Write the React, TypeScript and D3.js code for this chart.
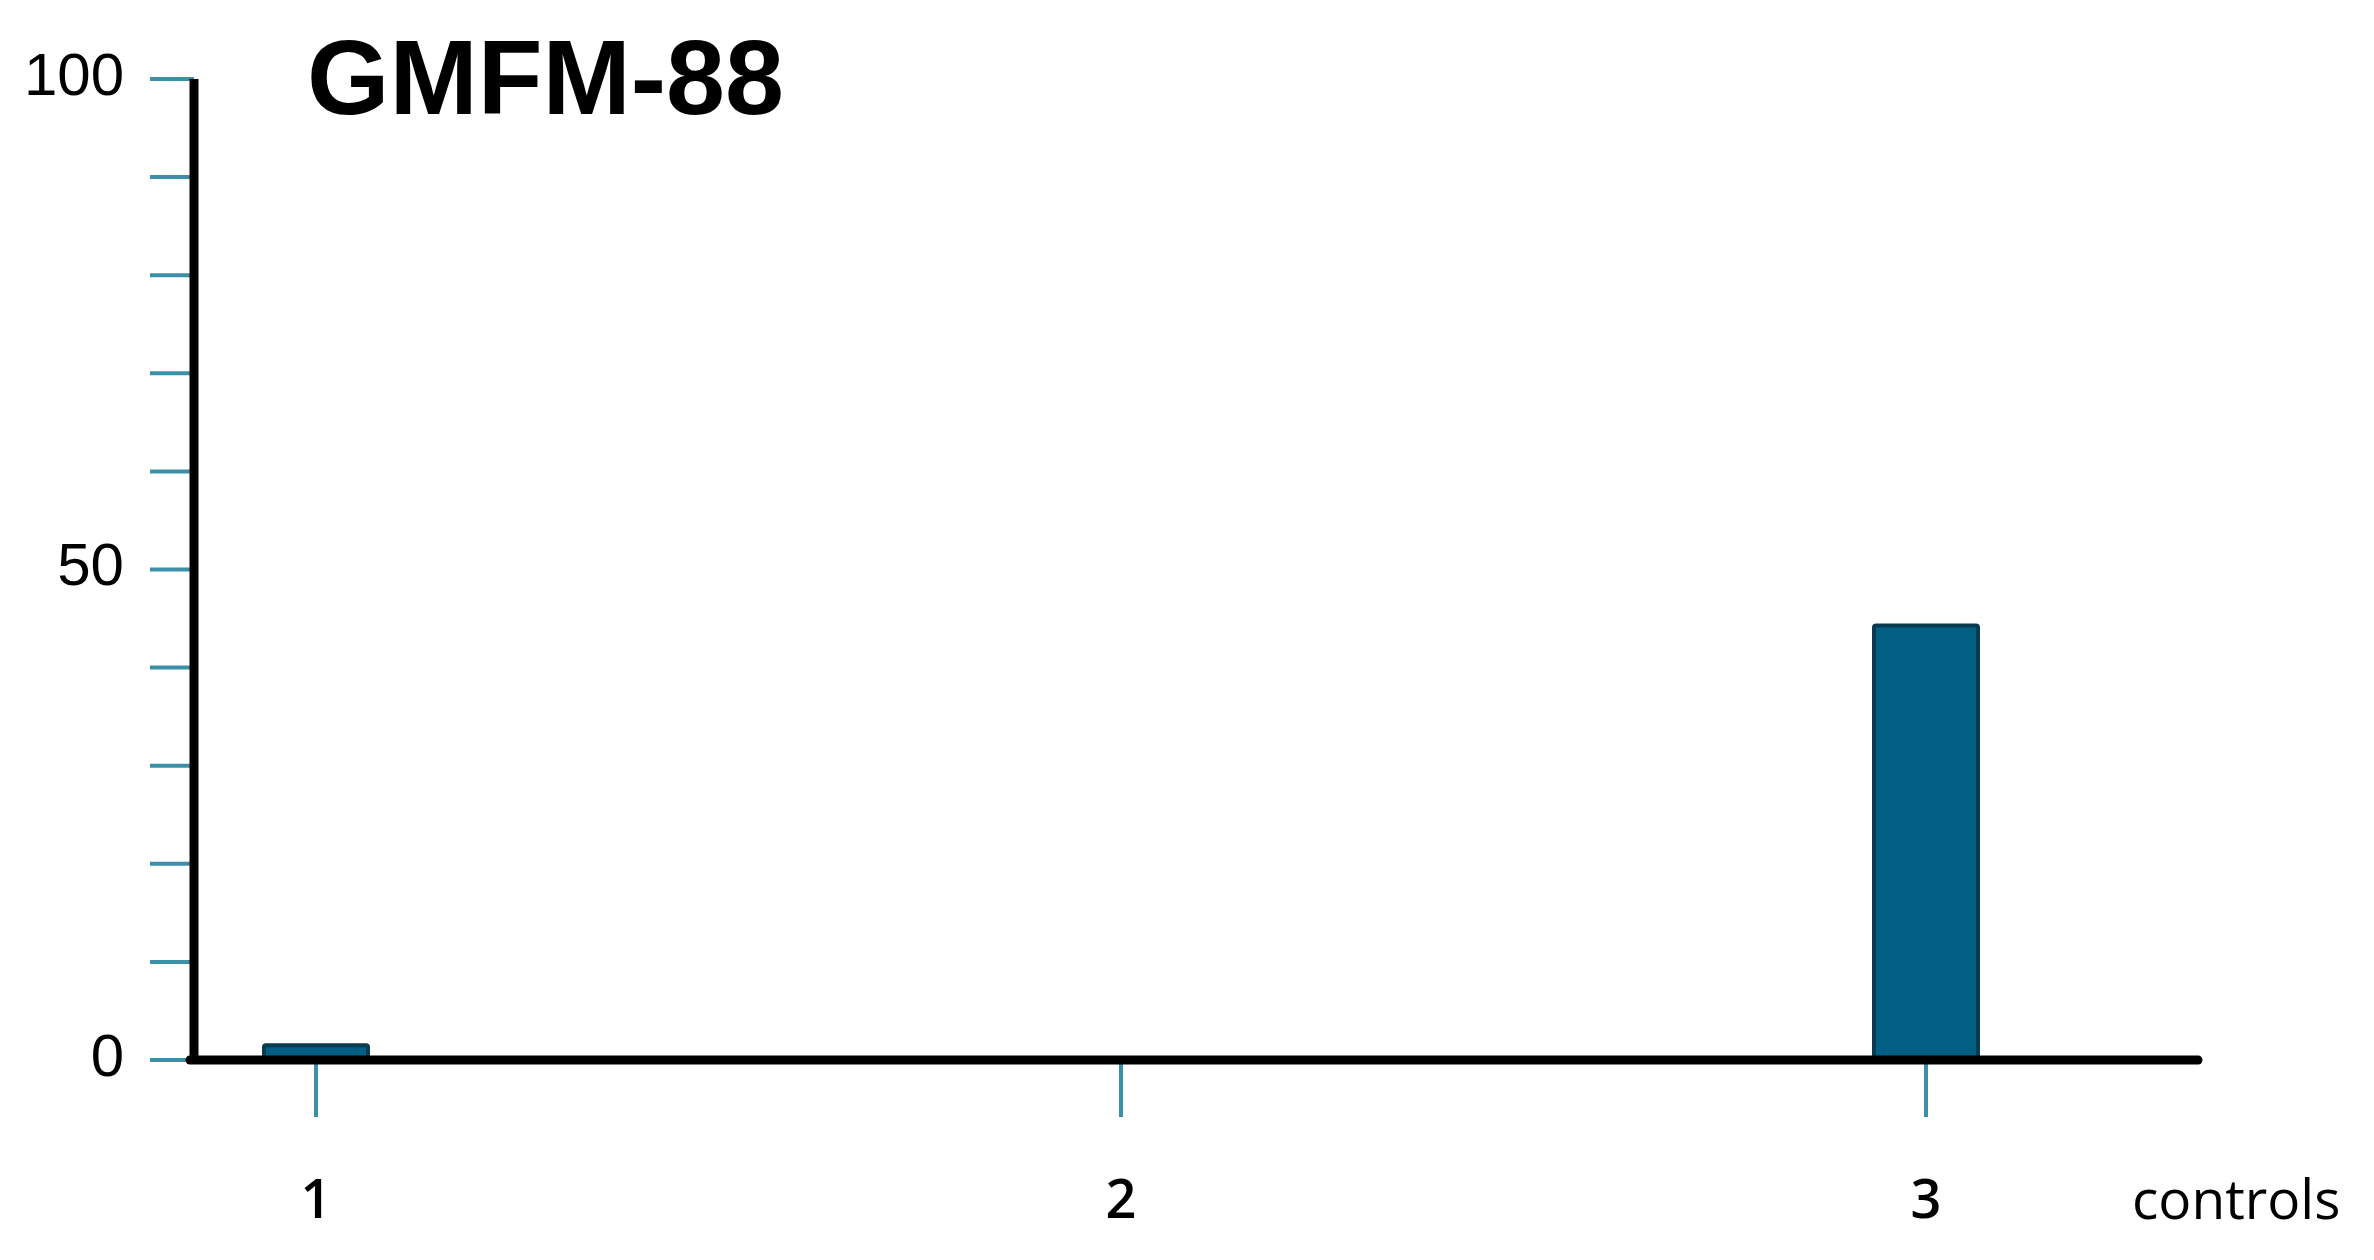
import * as d3 from "d3";
import { useEffect } from "react";

// values
const categories = ["1", "2", "3"];
const scores = [1.5, 0, 44.3];
const yTicks = d3.range(0, 101, 10);
const yTickLabels = [0, 50, 100];
const title = "GMFM-88";
const xAxisLabel = "controls";

const width = 2374;
const height = 1260;
const axisX = 194;
const axisRight = 2198;
const yTop = 79;
const yZero = 1060;

const barColor = "#005f82";
const barStroke = "#083a50";
const tickColor = "#3b8fa6";

export default function App() {
  useEffect(() => {
    document.body.style.margin = "0";
  }, []);

  const x = d3.scalePoint<string>().domain(categories).range([316, 1926]);
  const y = d3.scaleLinear().domain([0, 100]).range([yZero, yTop]);
  const barWidth = 104;

  return (
    <svg width={width} height={height} style={{ display: "block", background: "#fff" }}>
      {/* title */}
      <text
        x={307}
        y={114}
        fontFamily="'Liberation Sans', Arial, sans-serif"
        fontWeight="bold"
        fontSize={106}
        fill="#000"
      >
        {title}
      </text>

      {/* y ticks */}
      {yTicks.map((t) => (
        <line
          key={`yt-${t}`}
          x1={axisX - 44}
          x2={axisX}
          y1={y(t)}
          y2={y(t)}
          stroke={tickColor}
          strokeWidth={4}
        />
      ))}
      {yTickLabels.map((t) => (
        <text
          key={`yl-${t}`}
          x={124}
          y={y(t)}
          textAnchor="end"
          dominantBaseline="middle"
          fontFamily="'Liberation Sans', Arial, sans-serif"
          fontSize={60}
          fill="#000"
        >
          {t}
        </text>
      ))}

      {/* x ticks */}
      {categories.map((c) => (
        <line
          key={`xt-${c}`}
          x1={x(c)}
          x2={x(c)}
          y1={yZero}
          y2={1117}
          stroke={tickColor}
          strokeWidth={4}
        />
      ))}

      {/* bars */}
      {categories.map((c, i) =>
        scores[i] > 0 ? (
          <rect
            key={`bar-${c}`}
            x={(x(c) ?? 0) - barWidth / 2}
            y={y(scores[i])}
            width={barWidth}
            height={yZero - y(scores[i])}
            fill={barColor}
            stroke={barStroke}
            strokeWidth={4}
            rx={2}
          />
        ) : null
      )}

      {/* axes */}
      <line x1={axisX} x2={axisX} y1={yTop} y2={yZero} stroke="#000" strokeWidth={9} />
      <line x1={axisX - 4} x2={axisRight} y1={yZero} y2={yZero} stroke="#000" strokeWidth={9} strokeLinecap="round" />

      {/* x labels */}
      {categories.map((c) => (
        <text
          key={`xl-${c}`}
          x={x(c)}
          y={1204}
          textAnchor="middle"
          dominantBaseline="middle"
          fontFamily="'Open Sans', sans-serif"
          fontWeight={600}
          fontSize={54}
          fill="#000"
        >
          {c}
        </text>
      ))}
      <text
        x={2132}
        y={1204}
        dominantBaseline="middle"
        fontFamily="'Open Sans', sans-serif"
        fontWeight={500}
        fontSize={55}
        fill="#000"
      >
        {xAxisLabel}
      </text>
    </svg>
  );
}
